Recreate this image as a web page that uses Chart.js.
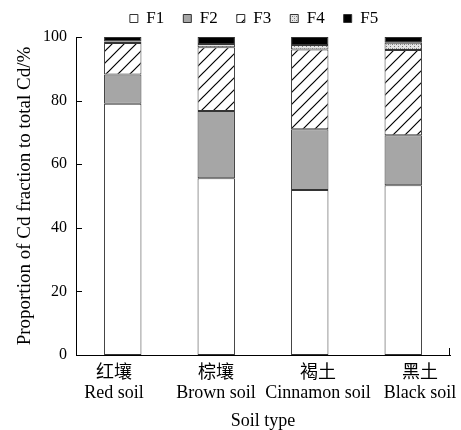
<!DOCTYPE html>
<html>
<head>
<meta charset="utf-8">
<script src="https://cdn.jsdelivr.net/npm/chart.js@4"></script>
<style>
  html, body { margin: 0; padding: 0; background: #fff; }
  #wrap { width: 461px; height: 430px; }
</style>
</head>
<body>
<div id="wrap"><canvas id="chart" width="461" height="430"></canvas></div>
<script>
// data
const soilTypes = [['红壤', 'Red soil'], ['棕壤', 'Brown soil'], ['褐土', 'Cinnamon soil'], ['黑土', 'Black soil']];
const f1 = [79.0, 55.6, 51.9, 53.4];
const f2 = [9.2, 21.1, 19.1, 15.7];
const f3 = [9.9, 20.1, 25.1, 26.8];
const f4 = [0.5, 1.0, 1.4, 2.3];
const f5 = [1.4, 2.2, 2.5, 1.8];
const yTicks = [0, 20, 40, 60, 80, 100];

const FONT = "'Liberation Serif', 'Noto Sans CJK SC', serif";

// hatch "/" pattern for F3
function hatch() {
  const s = 12;
  const c = document.createElement('canvas');
  c.width = s; c.height = s;
  const g = c.getContext('2d');
  g.fillStyle = '#fff';
  g.fillRect(0, 0, s, s);
  g.strokeStyle = '#000';
  g.lineWidth = 1.2;
  g.beginPath();
  g.moveTo(0, s); g.lineTo(s, 0);
  g.moveTo(-2, 2); g.lineTo(2, -2);
  g.moveTo(s - 2, s + 2); g.lineTo(s + 2, s - 2);
  g.stroke();
  return g.createPattern(c, 'repeat');
}

// dotted grey pattern for F4
function dots() {
  const c = document.createElement('canvas');
  c.width = 4; c.height = 4;
  const g = c.getContext('2d');
  g.fillStyle = '#e4e4e4';
  g.fillRect(0, 0, 4, 4);
  g.fillStyle = '#777';
  g.fillRect(0, 0, 1, 1);
  g.fillRect(2, 2, 1, 1);
  g.fillStyle = '#aaa';
  g.fillRect(2, 0, 1, 1);
  return g.createPattern(c, 'repeat');
}

const border = '#333';
function ds(label, data, bg) {
  return {
    label: label, data: data, backgroundColor: bg,
    borderColor: border, borderWidth: 1, borderSkipped: false,
    barPercentage: 0.4, categoryPercentage: 1.0
  };
}

// inward ticks on the y axis and a small tick at the x axis end
const innerTicks = {
  id: 'innerTicks',
  afterDraw(chart) {
    const { ctx, chartArea, scales } = chart;
    ctx.save();
    ctx.strokeStyle = '#000';
    ctx.lineWidth = 1;
    yTicks.forEach(v => {
      const y = Math.round(scales.y.getPixelForValue(v)) + 0.5;
      ctx.beginPath();
      ctx.moveTo(chartArea.left, y);
      ctx.lineTo(chartArea.left + 6, y);
      ctx.stroke();
    });
    const xr = Math.round(chartArea.right) - 0.5;
    ctx.beginPath();
    ctx.moveTo(xr, chartArea.bottom);
    ctx.lineTo(xr, chartArea.bottom - 7);
    ctx.stroke();
    ctx.restore();
  }
};

// category labels: placed from the x scale, spread a little wider as in the figure
const xLabels = {
  id: 'xLabels',
  afterDraw(chart) {
    const { ctx, chartArea, scales } = chart;
    const n = soilTypes.length;
    ctx.save();
    ctx.fillStyle = '#000';
    ctx.font = '18px ' + FONT;
    ctx.textAlign = 'center';
    ctx.textBaseline = 'middle';
    soilTypes.forEach((lines, i) => {
      const x = scales.x.getPixelForTick(i) + 4 + 8.5 * (i - (n - 1) / 2);
      lines.forEach((t, k) => ctx.fillText(t, x, chartArea.bottom + 18 + k * 20));
    });
    ctx.restore();
  }
};

// nudge the legend to the right, as in the original figure
const legendShift = {
  id: 'legendShift',
  afterLayout(chart) {
    chart.legend.left += 29;
    chart.legend.right += 29;
  }
};

const ctx = document.getElementById('chart').getContext('2d');
new Chart(ctx, {
  type: 'bar',
  data: {
    labels: soilTypes,
    datasets: [
      ds('F1', f1, '#fff'),
      ds('F2', f2, '#a6a6a6'),
      ds('F3', f3, hatch()),
      ds('F4', f4, dots()),
      ds('F5', f5, '#000')
    ]
  },
  options: {
    responsive: false,
    animation: false,
    layout: { padding: { top: -9, right: 11, left: 0, bottom: 0 } },
    plugins: {
      legend: {
        position: 'top',
        labels: {
          font: { family: FONT, size: 17 },
          color: '#000',
          boxWidth: 8,
          boxHeight: 8,
          padding: 19
        }
      },
      tooltip: { enabled: false }
    },
    scales: {
      x: {
        stacked: true,
        afterFit(scale) { scale.height = 75; },
        grid: { display: false, drawTicks: false },
        border: { color: '#000', width: 1 },
        ticks: { display: false },
        title: { display: true, text: 'Soil type', font: { family: FONT, size: 18 }, color: '#000', padding: { top: 2, bottom: -2 } }
      },
      y: {
        stacked: true,
        min: 0, max: 100,
        afterBuildTicks(scale) { scale.ticks = yTicks.map(v => ({ value: v })); },
        afterFit(scale) { scale.width = 76; },
        grid: { display: false, drawTicks: false },
        border: { color: '#000', width: 1 },
        ticks: { font: { family: FONT, size: 16 }, color: '#000', padding: 9 },
        title: { display: true, text: 'Proportion of Cd fraction to total Cd/%', font: { family: FONT, size: 19 }, color: '#000', padding: { top: 14, bottom: 0 } }
      }
    }
  },
  plugins: [innerTicks, xLabels, legendShift]
});
</script>
</body>
</html>
